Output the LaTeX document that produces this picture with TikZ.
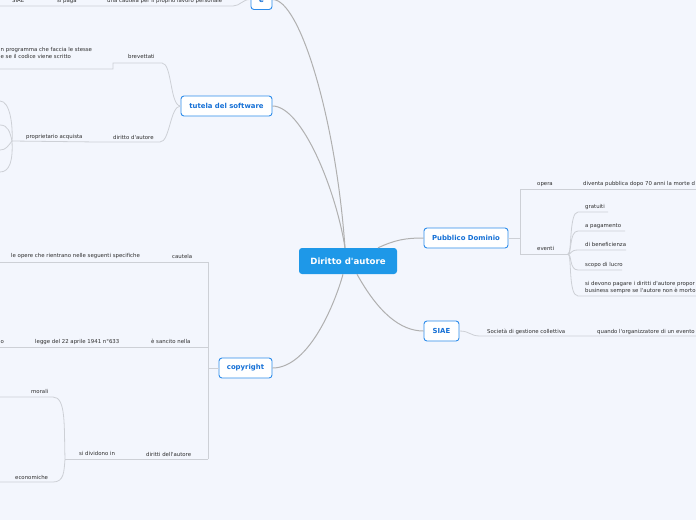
\documentclass[tikz,border=0pt]{standalone}
\usepackage{fontspec}
\setmainfont{DejaVu Sans}[Ligatures={NoCommon,TeXOff}]
\definecolor{bg}{HTML}{F3F6FD}
\definecolor{nodeblue}{HTML}{2D8CEB}
\definecolor{txtblue}{HTML}{1570D6}
\definecolor{centerblue}{HTML}{1E98E8}
\definecolor{maincurve}{HTML}{B0B0B0}
\definecolor{subline}{HTML}{CDD0D6}
\definecolor{lbl}{HTML}{2E2E2E}
\tikzset{
 topic/.style={draw=nodeblue, line width=0.9pt, fill=white, rounded corners=3pt, text=txtblue, font=\fontsize{6.9}{8}\selectfont\bfseries, minimum height=20pt, inner sep=0pt},
 central/.style={fill=centerblue, rounded corners=3pt, text=white, font=\fontsize{8.6}{10}\selectfont\bfseries, minimum height=26pt, minimum width=98pt, inner sep=0pt},
 lab/.style={text=lbl, font=\fontsize{5.4}{7.6}\selectfont, inner sep=0pt, anchor=base west},
 lab2/.style={lab, anchor=north west, align=left},
 main/.style={draw=maincurve, line width=1pt},
 sub/.style={draw=subline, line width=0.8pt},
}
\begin{document}
\begin{tikzpicture}[x=1pt,y=-1pt]
\fill[bg] (0,0) rectangle (696,520);
\useasboundingbox (0,0) rectangle (696,520);
\clip (0,0) rectangle (696,520);

% main nodes
\node[central] (c) at (348,261) {Diritto d'autore};
\node[topic, minimum width=21pt] (e) at (261.5,-0.5) {è};
\node[topic, minimum width=91pt] (tut) at (226.5,106) {tutela del software};
\node[topic, minimum width=53pt] (copy) at (245.5,368) {copyright};
\node[topic, minimum width=84pt] (pd) at (466,238) {Pubblico Dominio};
\node[topic, minimum width=35pt] (siae) at (441.5,331) {SIAE};

% main curves
\draw[main] (e.east) .. controls (300,-1) and (336,120) .. ([xshift=-3pt]c.north);
\draw[main] (tut.east) .. controls (302,106) and (336,190) .. ([xshift=-3pt]c.north);
\draw[main] (copy.east) .. controls (310,368) and (336,300) .. ([xshift=-5pt]c.south);
\draw[main] ([xshift=30pt]c.north) .. controls (395,240) and (405,238) .. (pd.west);
\draw[main] ([xshift=9pt]c.south) .. controls (378,312) and (400,331) .. (siae.west);

% branch of "è"
\coordinate (e1) at (233,6);
\coordinate (e0) at (0,6);
\draw[sub] (e.west) .. controls (243,-1) and (240,6) .. (e1) -- (e0);
\node[lab] (ea) at (107,2) {una cautela per il proprio lavoro personale};
\node[lab] (eb) at (57,2) {si paga};
\node[lab] (ec) at (12,2) {SIAE};

% tutela del software
\coordinate (b1) at (162,63);
\coordinate (b2) at (113,63);
\coordinate (b3) at (113,69);
\coordinate (b4) at (0,69);
\draw[sub] (tut.west) .. controls (170,106) and (172,63) .. (b1) -- (b2) -- (b3) -- (b4);
\node[lab] (tb) at (128,58) {brevettati};
\node[lab2] (tp) at (0.5,47) {n programma che faccia le stesse\\e se il codice viene scritto};
\coordinate (d1) at (160,142);
\coordinate (d2) at (98,142);
\coordinate (d3) at (12,141);
\draw[sub] (tut.west) .. controls (170,106) and (170,142) .. (d1) -- (d2) -- (d3);
\node[lab] (td) at (113,139) {diritto d'autore};
\node[lab] (tq) at (26,138) {proprietario acquista};
\coordinate (k1) at (0,101);
\coordinate (k2) at (0,125);
\coordinate (k3) at (0,150);
\coordinate (k4) at (0,172);
\draw[sub] (d3) .. controls (13,125) and (10,101) .. (k1);
\draw[sub] (d3) .. controls (10,132) and (8,125) .. (k2);
\draw[sub] (d3) .. controls (8,146) and (6,150) .. (k3);
\draw[sub] (d3) .. controls (13,160) and (10,172) .. (k4);

% copyright
\coordinate (v1) at (208,262);
\coordinate (v2) at (208,459);
\coordinate (v3) at (208,368);
\coordinate (v4) at (208,347);
\draw[sub] (copy.west) -- (v3);
\draw[sub] (v1) -- (v2);
\coordinate (c1) at (0,262);
\coordinate (c2) at (0,347);
\coordinate (c3) at (65,459);
\draw[sub] (v1) -- (c1);
\draw[sub] (v4) -- (c2);
\draw[sub] (v2) -- (c3);
\node[lab] (ca) at (172,258) {cautela};
\node[lab] (cb) at (11,257) {le opere che rientrano nelle seguenti specifiche};
\node[lab] (cc) at (151,343) {è sancito nella};
\node[lab] (cd) at (35,343) {legge del 22 aprile 1941 n°633};
\node[lab] (ce) at (0.5,343) {o};
\node[lab] (cf) at (146,456) {diritti dell'autore};
\node[lab] (cg) at (79,455) {si dividono in};
\coordinate (m1) at (53,397);
\coordinate (m0) at (0,397);
\coordinate (n1) at (53,482);
\coordinate (n0) at (0,482);
\draw[sub] (c3) .. controls (64,425) and (66,397) .. (m1) -- (m0);
\draw[sub] (c3) .. controls (64,472) and (64,482) .. (n1) -- (n0);
\node[lab] (cm) at (31,393) {morali};
\node[lab] (cn) at (15,479) {economiche};

% Pubblico Dominio
\coordinate (p0) at (520,238);
\coordinate (p1) at (520,189);
\coordinate (p2) at (520,254);
\coordinate (p3) at (696,189);
\coordinate (p4) at (568,254);
\draw[sub] (pd.east) -- (p0);
\draw[sub] (p1) -- (p2);
\draw[sub] (p1) -- (p3);
\draw[sub] (p2) -- (p4);
\node[lab] (pa) at (537,185) {opera};
\node[lab] (pb) at (583,185) {diventa pubblica dopo 70 anni la morte d};
\node[lab] (pc) at (537,250) {eventi};
\coordinate (g1) at (578,212); \coordinate (g2) at (608,212);
\coordinate (h1) at (578,231); \coordinate (h2) at (625,231);
\coordinate (i1) at (578,250); \coordinate (i2) at (626,250);
\coordinate (j1) at (578,270); \coordinate (j2) at (622,270);
\coordinate (q1) at (578,296); \coordinate (q2) at (696,296);
\draw[sub] (p4) .. controls (572,254) and (569,212) .. (g1) -- (g2);
\draw[sub] (p4) .. controls (572,254) and (569,231) .. (h1) -- (h2);
\draw[sub] (p4) .. controls (572,254) and (570,250) .. (i1) -- (i2);
\draw[sub] (p4) .. controls (572,254) and (569,270) .. (j1) -- (j2);
\draw[sub] (p4) .. controls (572,254) and (568,296) .. (q1) -- (q2);
\node[lab] (pg) at (585,208) {gratuiti};
\node[lab] (ph) at (585,227) {a pagamento};
\node[lab] (pi) at (585,246) {di beneficienza};
\node[lab] (pj) at (585,266) {scopo di lucro};
\node[lab2] (pq) at (585,281) {si devono pagare i diritti d'autore propor\\business sempre se l'autore non è morto};

% SIAE
\coordinate (s1) at (480,336);
\coordinate (s2) at (696,336);
\draw[sub] (siae.east) .. controls (470,331) and (470,336) .. (s1) -- (s2);
\node[lab] (sa) at (487,333) {Società di gestione collettiva};
\node[lab] (sb) at (597,333) {quando l'organizzatore di un evento};
\end{tikzpicture}
\end{document}
